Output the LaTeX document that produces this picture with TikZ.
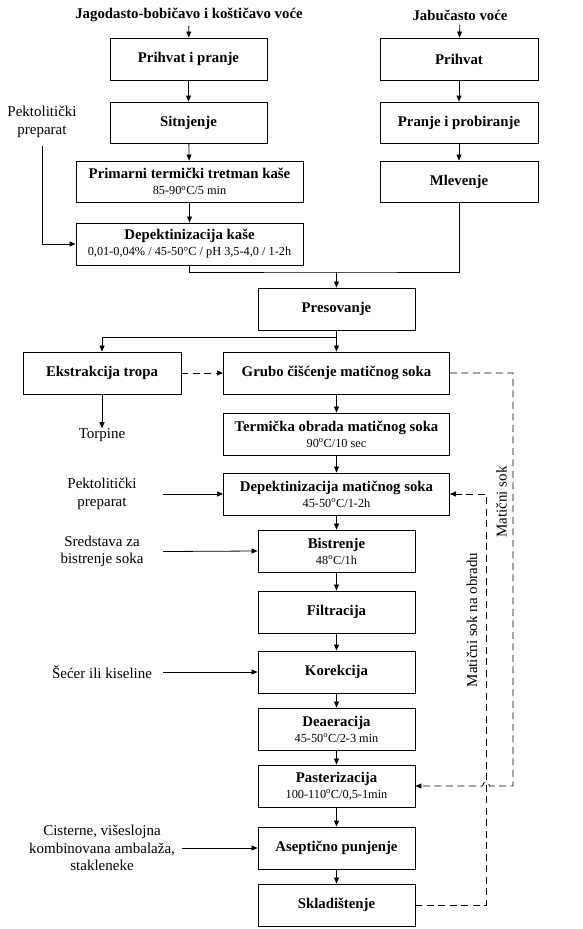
\documentclass[tikz,border=0pt]{standalone}
\usepackage{fontspec}
\setmainfont{Liberation Serif}
\usetikzlibrary{arrows.meta}
\newcommand\bsz{\fontsize{14.8}{17}\selectfont}
\newcommand\ssz{\fontsize{12.3}{14}\selectfont}
\newcommand\sub[1]{\\[-1pt]{\mdseries\ssz #1}}
\tikzset{
  box/.style={draw=black, line width=0.9pt, inner sep=0pt, align=center, font=\bsz\bfseries},
  lbl/.style={inner sep=0pt, align=center, font=\fontsize{15}{17.5}\selectfont},
  ttl/.style={inner sep=4pt, font=\bsz\bfseries},
  ln/.style={line width=0.8pt},
  arr/.style={line width=0.8pt, -{Triangle[length=6pt,width=5pt]}},
  dsh/.style={line width=0.9pt, dash pattern=on 7pt off 4.5pt},
}
\begin{document}
\begin{tikzpicture}[x=1pt,y=-1pt]
\useasboundingbox (0,0) rectangle (582,929);
% titles
\node[ttl] (t1) at (189,15) {Jagodasto-bobičavo i koštičavo voće};
\node[ttl] (t2) at (460,15) {Jabučasto voće};
% left column
\node[box, minimum width=157pt, minimum height=42pt] (p1) at (188.5,59) {Prihvat i pranje};
\node[box, minimum width=157pt, minimum height=41pt] (p2) at (188.5,122.5) {Sitnjenje};
\node[box, minimum width=227pt, minimum height=41pt] (p3) at (189.5,181.5) {Primarni termički tretman kaše\sub{85-90\textsuperscript{o}C/5 min}};
\node[box, minimum width=227pt, minimum height=42pt] (p4) at (189.5,244) {Depektinizacija kaše\sub{0,01-0,04\% / 45-50°C / pH 3,5-4,0 / 1-2h}};
% right column
\node[box, minimum width=158pt, minimum height=42pt] (j1) at (459,59) {Prihvat};
\node[box, minimum width=158pt, minimum height=41pt] (j2) at (459,122.5) {Pranje i probiranje};
\node[box, minimum width=158pt, minimum height=41pt] (j3) at (459,181.5) {Mlevenje};
% main column
\node[box, minimum width=157pt, minimum height=42pt] (pres) at (336.5,309) {Presovanje};
\node[box, minimum width=158pt, minimum height=42pt] (ekst) at (102,373) {Ekstrakcija tropa};
\node[box, minimum width=226pt, minimum height=42pt] (grubo) at (336.5,373) {Grubo čišćenje matičnog soka};
\node[box, minimum width=226pt, minimum height=42pt] (term) at (336.5,434) {Termička obrada matičnog soka\sub{90\textsuperscript{o}C/10 sec}};
\node[box, minimum width=226pt, minimum height=42pt] (depm) at (336.5,494) {Depektinizacija matičnog soka\sub{45-50\textsuperscript{o}C/1-2h}};
\node[box, minimum width=157pt, minimum height=42pt] (bist) at (336.5,551) {Bistrenje\sub{48\textsuperscript{o}C/1h}};
\node[box, minimum width=157pt, minimum height=42pt] (filt) at (336.5,612) {Filtracija};
\node[box, minimum width=157pt, minimum height=42pt] (kor) at (336.5,672) {Korekcija};
\node[box, minimum width=157pt, minimum height=42pt] (deae) at (336.5,729) {Deaeracija\sub{45-50\textsuperscript{o}C/2-3 min}};
\node[box, minimum width=157pt, minimum height=42pt] (past) at (336.5,786) {Pasterizacija\sub{100-110\textsuperscript{o}C/0,5-1min}};
\node[box, minimum width=157pt, minimum height=42pt] (asep) at (336.5,848) {Aseptično punjenje};
\node[box, minimum width=157pt, minimum height=42pt] (skla) at (336.5,905) {Skladištenje};
% side labels
\node[lbl] (pek1) at (42,122) {Pektolitički\\preparat};
\node[lbl] (torp) at (102,435) {Torpine};
\node[lbl, minimum width=122pt] (pek2) at (102,494) {Pektolitički\\preparat};
\node[lbl, minimum width=122pt] (sred) at (102,551.5) {Sredstava za\\bistrenje soka};
\node[lbl, minimum width=122pt] (sec) at (102,672) {Šećer ili kiseline};
\node[lbl, minimum width=160pt] (cist) at (102,848) {Cisterne, višeslojna\\kombinovana ambalaža,\\stakleneke};
\node[lbl, rotate=90] (ms1) at (501.5,502) {Matični sok};
\node[lbl, rotate=90] (ms2) at (472,620) {Matični sok na obradu};
% coordinates
\coordinate (merge) at (336.5,272);
\coordinate (br) at (336.5,337);
\coordinate (g1) at (513,786);
\coordinate (hopR) at (489.5,786);
\coordinate (hopL) at (482.5,786);
\coordinate (g2) at (486,494);
% connectors
\draw[arr] (t1) -- (p1);
\draw[arr] (t2) -- (j1);
\draw[arr] (p1) -- (p2);
\draw[arr] (p2) -- (p3);
\draw[arr] (p3) -- (p4);
\draw[arr] (j1) -- (j2);
\draw[arr] (j2) -- (j3);
\draw[ln] (p4.south) |- (merge) -| (j3.south);
\draw[arr] (merge) -- (pres.north);
\draw[ln] (pres.south) -- (br);
\draw[arr] (br) -| (ekst.north);
\draw[arr] (br) -- (grubo.north);
\draw[dsh, arr] (ekst.east) -- (grubo.west);
\draw[arr] (ekst.south) -- (torp.north);
\draw[arr] (grubo) -- (term);
\draw[arr] (term) -- (depm);
\draw[arr] (depm) -- (bist);
\draw[arr] (bist) -- (filt);
\draw[arr] (filt) -- (kor);
\draw[arr] (kor) -- (deae);
\draw[arr] (deae) -- (past);
\draw[arr] (past) -- (asep);
\draw[arr] (asep) -- (skla);
\draw[arr] ([yshift=-8pt]pek1.south) |- (p4.west);
\draw[arr] (pek2.east) -- (depm.west);
\draw[arr] (sred.east) -- (bist.west);
\draw[arr] (sec.east) -- (kor.west);
\draw[arr] (cist.east) -- (asep.west);
\draw[dsh, arr] (grubo.east) -| (g1) -- (hopR) .. controls +(0,-5) and +(0,-5) .. (hopL) -- (past.east);
\draw[dsh, arr] (skla.east) -| (g2) -- (depm.east);
\end{tikzpicture}
\end{document}
